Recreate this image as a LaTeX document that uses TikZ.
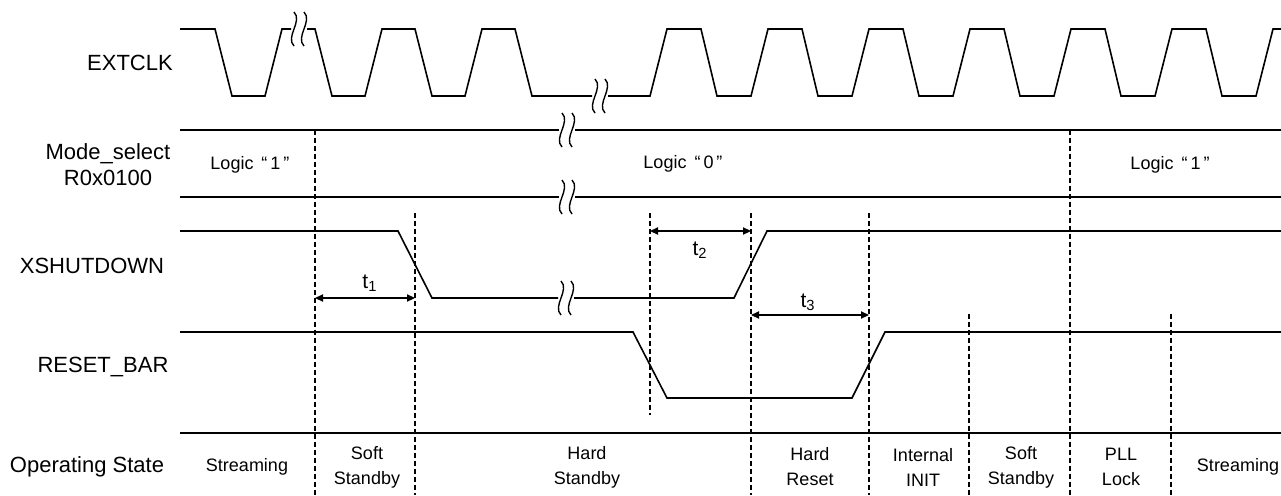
\documentclass[tikz,border=0pt]{standalone}
\usepackage{fontspec}
\setmainfont{Liberation Sans}
\usepackage{tikz}
\usetikzlibrary{arrows.meta}

\begin{document}
\begin{tikzpicture}[x=0.5pt,y=-0.5pt,>={Triangle[length=4pt,width=3.6pt]},
  every node/.style={font=\fontsize{9}{12.5}\selectfont,inner sep=0pt},
  siglabel/.style={font=\fontsize{11}{13}\selectfont,align=center},
  tlabel/.style={font=\fontsize{10.5}{12}\selectfont},
  wave/.style={line width=.8pt,line join=miter},
  rail/.style={line width=1pt},
  guide/.style={line width=.6pt,dash pattern=on 2.5pt off 1.5pt},
  brk/.style={line width=.7pt},
  dim/.style={<->,line width=.6pt},
  statebox/.style={align=center}]
\useasboundingbox (0,0) rectangle (1281,495);
\node[siglabel] (extclk) at (130,63) {EXTCLK};
\node[siglabel] (modesel) at (108,165) {Mode\_select\\R0x0100};
\node[siglabel] (xshut) at (92,266) {XSHUTDOWN};
\node[siglabel] (rstbar) at (103,367) {RESET\_BAR};
\node[siglabel] (opstate) at (87,467) {Operating State};
\draw[wave] (180,29)--(215,29)--(232,96)--(265,96)--(282,29)--(291,29);
\draw[wave] (307,29)--(315,29)--(332,96)--(365,96)--(382,29)--(415,29)--(432,96)--(465,96)--(482,29)--(515,29)--(532,96)--(592,96);
\draw[wave] (608,96)--(650,96)--(667,29)--(701,29)--(717,96)--(751,96)--(768,29)--(802,29)--(818,96)--(852,96)--(869,29)--(903,29)--(919,96)--(953,96)--(970,29)--(1004,29)--(1020,96)--(1054,96)--(1071,29)--(1105,29)--(1121,96)--(1155,96)--(1172,29)--(1206,29)--(1222,96)--(1256,96)--(1273,29)--(1281,29);
\draw[brk] (294,12) .. controls (303,21) and (285,37) .. (294,46);
\draw[brk] (304,12) .. controls (313,21) and (295,37) .. (304,46);
\draw[brk] (595,79) .. controls (604,88) and (586,104) .. (595,113);
\draw[brk] (605,79) .. controls (614,88) and (596,104) .. (605,113);
\draw[rail] (180,130)--(559,130);
\draw[rail] (575,130)--(1281,130);
\draw[brk] (562,113) .. controls (571,122) and (553,138) .. (562,147);
\draw[brk] (572,113) .. controls (581,122) and (563,138) .. (572,147);
\draw[rail] (180,197)--(559,197);
\draw[rail] (575,197)--(1281,197);
\draw[brk] (562,180) .. controls (571,189) and (553,205) .. (562,214);
\draw[brk] (572,180) .. controls (581,189) and (563,205) .. (572,214);
\node (lg1a) at (250,165) {Logic \,“\,1\,”};
\node (lg0) at (683,164) {Logic \,“\,0\,”};
\node (lg1b) at (1170,165) {Logic \,“\,1\,”};
\draw[wave] (180,231)--(398,231)--(432,298)--(558,298);
\draw[wave] (574,298)--(734,298)--(767,231)--(1281,231);
\draw[brk] (561,281) .. controls (570,290) and (552,306) .. (561,315);
\draw[brk] (571,281) .. controls (580,290) and (562,306) .. (571,315);
\draw[wave] (180,332)--(633,332)--(667,398)--(852,398)--(885,332)--(1281,332);
\draw[rail] (180,433)--(1281,433);
\draw[guide] (315,130)--(315,495);
\draw[guide] (415,213)--(415,495);
\draw[guide] (650,213)--(650,415);
\draw[guide] (751,213)--(751,495);
\draw[guide] (869,213)--(869,495);
\draw[guide] (969,314)--(969,495);
\draw[guide] (1070,130)--(1070,495);
\draw[guide] (1171,314)--(1171,495);
\coordinate (t1l) at (315,298);
\coordinate (t1r) at (415,298);
\coordinate (t2l) at (650,231);
\coordinate (t2r) at (751,231);
\coordinate (t3l) at (751,315);
\coordinate (t3r) at (869,315);
\draw[dim] (t1l)--(t1r);
\draw[dim] (t2l)--(t2r);
\draw[dim] (t3l)--(t3r);
\node[tlabel] (t1) at (370,283) {t\textsubscript{1}};
\node[tlabel] (t2) at (700,250) {t\textsubscript{2}};
\node[tlabel] (t3) at (808,302) {t\textsubscript{3}};
\node[statebox] (st1) at (247,467) {Streaming};
\node[statebox] (st2) at (367,467) {Soft\\Standby};
\node[statebox] (st3) at (587,467) {Hard\\Standby};
\node[statebox] (st4) at (810,467) {Hard\\Reset};
\node[statebox] (st5) at (923,467) {Internal\\INIT};
\node[statebox] (st6) at (1021,467) {Soft\\Standby};
\node[statebox] (st7) at (1121,467) {PLL\\Lock};
\node[statebox] (st8) at (1238,467) {Streaming};
\end{tikzpicture}
\end{document}
